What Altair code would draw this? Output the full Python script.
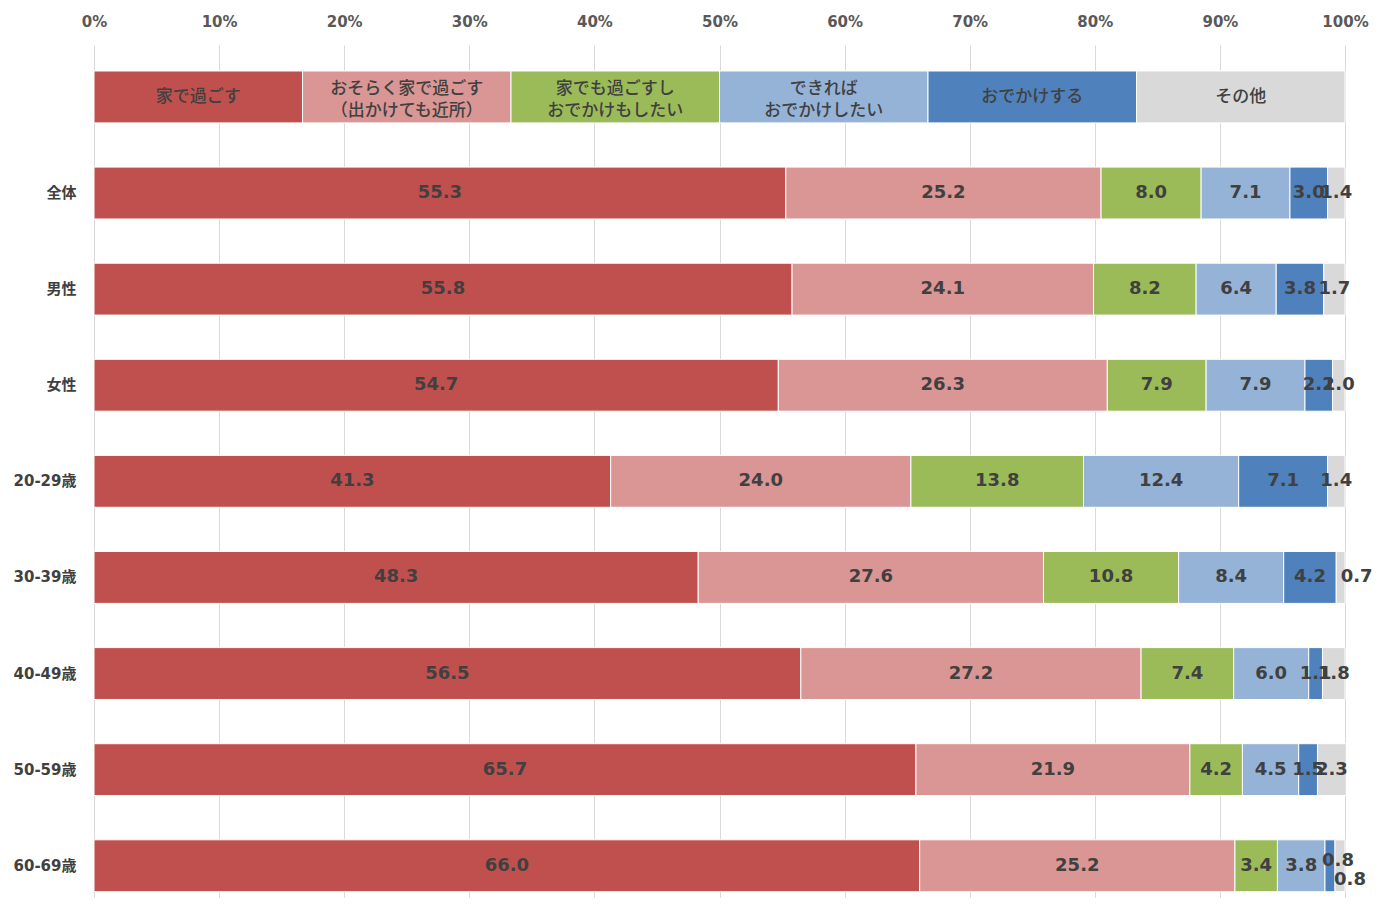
import altair as alt
import pandas as pd

rows = ["全体", "男性", "女性", "20-29歳", "30-39歳", "40-49歳", "50-59歳", "60-69歳"]
series = ["家で過ごす", "おそらく家で過ごす（出かけても近所）", "家でも過ごすしおでかけもしたい",
          "できればおでかけしたい", "おでかけする", "その他"]
legend_labels = ["家で過ごす", "おそらく家で過ごす\n（出かけても近所）", "家でも過ごすし\nおでかけもしたい",
                 "できれば\nおでかけしたい", "おでかけする", "その他"]
colors = ["#C0504D", "#D99694", "#9BBB59", "#95B3D7", "#4F81BD", "#D9D9D9"]

v_home = [55.3, 55.8, 54.7, 41.3, 48.3, 56.5, 65.7, 66.0]
v_prob_home = [25.2, 24.1, 26.3, 24.0, 27.6, 27.2, 21.9, 25.2]
v_both = [8.0, 8.2, 7.9, 13.8, 10.8, 7.4, 4.2, 3.4]
v_want_out = [7.1, 6.4, 7.9, 12.4, 8.4, 6.0, 4.5, 3.8]
v_out = [3.0, 3.8, 2.2, 7.1, 4.2, 1.1, 1.5, 0.8]
v_other = [1.4, 1.7, 1.0, 1.4, 0.7, 1.8, 2.3, 0.8]

values = [v_home, v_prob_home, v_both, v_want_out, v_out, v_other]
LEG = " "

recs = []
for i, r in enumerate(rows):
    cum = 0.0
    for j, s in enumerate(series):
        v = values[j][i]
        recs.append({"row": r, "series": s, "value": v, "start": cum, "end": cum + v,
                     "mid": cum + v / 2, "label": f"{v:.1f}"})
        cum += v
df = pd.DataFrame(recs)

leg = []
for j, s in enumerate(series):
    leg.append({"row": LEG, "series": s, "start": j * 100 / 6, "end": (j + 1) * 100 / 6,
                "mid": (j + 0.5) * 100 / 6, "label": legend_labels[j],
                "two": "\n" in legend_labels[j]})
dleg = pd.DataFrame(leg)

y_order = [LEG] + rows
yscale = alt.Scale(domain=y_order, paddingInner=0.46, paddingOuter=0.168, align=0.805)
xscale = alt.Scale(domain=[0, 100], nice=False)
cscale = alt.Scale(domain=series, range=colors)

y_enc = alt.Y("row:N", scale=yscale, sort=y_order,
              axis=alt.Axis(title=None, domain=False, ticks=False, labelPadding=18,
                            labelFont="DejaVu Sans, Noto Sans CJK JP", labelFontSize=15,
                            labelFontWeight="bold", labelColor="#404040"))
x_enc = alt.X("start:Q", scale=xscale,
              axis=alt.Axis(orient="top", title=None, values=list(range(0, 101, 10)),
                            labelExpr="datum.value + '%'", domain=False, ticks=False,
                            labelFlush=False,
                            grid=True, gridColor="#D9D9D9", gridWidth=1, labelPadding=16,
                            labelFont="DejaVu Sans", labelFontSize=15, labelFontWeight="bold",
                            labelColor="#595959"))

X = lambda f: alt.X(f, scale=xscale)
Y = alt.Y("row:N", scale=yscale, sort=y_order)

bars = alt.Chart(df).mark_bar(stroke="white", strokeWidth=1).encode(
    x=x_enc, x2="end:Q", y=y_enc,
    color=alt.Color("series:N", scale=cscale, legend=None))

legbars = alt.Chart(dleg).mark_bar(stroke="white", strokeWidth=1).encode(
    x=X("start:Q"), x2="end:Q", y=Y,
    color=alt.Color("series:N", scale=cscale, legend=None))

leg_style = dict(font="Noto Sans CJK JP", fontSize=17, color="#404040",
                 lineBreak="\n", lineHeight=22, fontWeight=500)
legtext1 = alt.Chart(dleg).transform_filter("!datum.two").mark_text(**leg_style).encode(
    x=X("mid:Q"), y=Y, text="label:N")
legtext2 = alt.Chart(dleg).transform_filter("datum.two").mark_text(dy=-8, **leg_style).encode(
    x=X("mid:Q"), y=Y, text="label:N")

base_txt = dict(font="DejaVu Sans", fontSize=18, fontWeight="bold", color="#404040")

special_a = "(datum.row == '60-69歳' && datum.series == 'おでかけする')"
special_b = "(datum.row == '60-69歳' && datum.series == 'その他')"
special_c = "(datum.row == '30-39歳' && datum.series == 'その他')"

vtext = alt.Chart(df).transform_filter(
    f"!({special_a} || {special_b} || {special_c})"
).mark_text(**base_txt).encode(x=X("mid:Q"), y=Y, text="label:N")

t_a = alt.Chart(df).transform_filter(special_a).mark_text(dx=8, dy=-5, **base_txt).encode(
    x=X("mid:Q"), y=Y, text="label:N")
t_b = alt.Chart(df).transform_filter(special_b).mark_text(dx=10, dy=14, **base_txt).encode(
    x=X("mid:Q"), y=Y, text="label:N")
t_c = alt.Chart(df).transform_filter(special_c).mark_text(dx=16, **base_txt).encode(
    x=X("mid:Q"), y=Y, text="label:N")

chart = alt.layer(bars, legbars, legtext1, legtext2, vtext, t_a, t_b, t_c).properties(
    width=1251, height=853, autosize="none",
    padding={"left": 86, "top": 37, "right": 33, "bottom": 0},
    background="white"
).configure_view(stroke=None)

chart.save("out.html", embed_options={"renderer": "svg", "actions": False})
